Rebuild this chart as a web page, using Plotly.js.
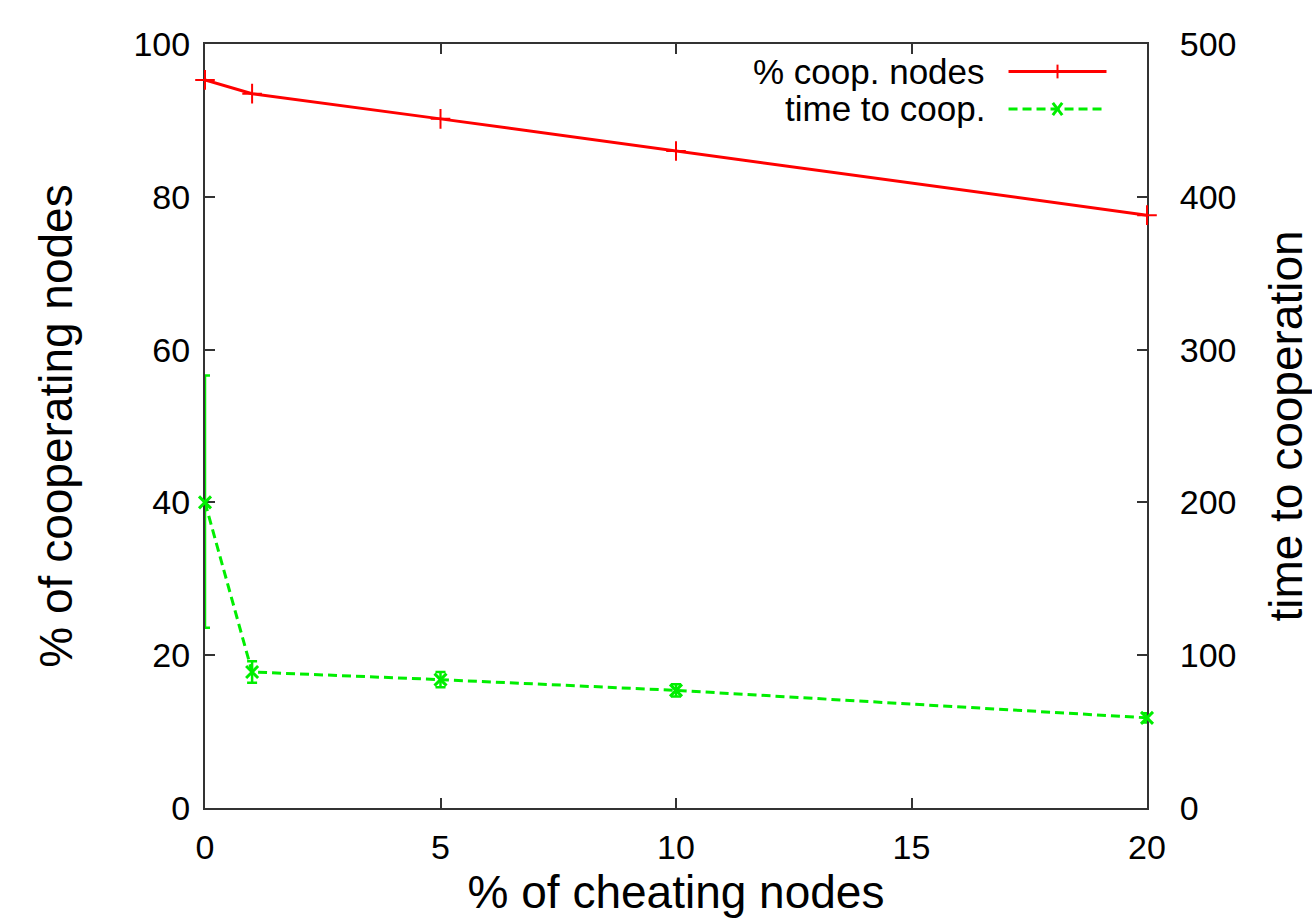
<!DOCTYPE html>
<html>
<head>
<meta charset="utf-8">
<script src="https://cdn.plot.ly/plotly-3.0.1.min.js"></script>
<style>html,body{margin:0;padding:0;background:#fff;}#chart{width:1312px;height:918px;}</style>
</head>
<body>
<div id="chart"></div>
<script>
// Data
const cheating = [0, 1, 5, 10, 20];
const coopNodes = [95.3, 93.5, 90.2, 86.0, 77.6];
const timeToCoop = [200, 89, 84, 77, 59];
const timeErrPlus = [83, 7, 5, 4, 3];
const timeErrMinus = [82, 7, 5, 4, 3];
const xTicks = [0, 5, 10, 15, 20];
const yTicks = [0, 20, 40, 60, 80, 100];
const y2Ticks = [0, 100, 200, 300, 400, 500];
const seriesNames = ['% coop. nodes', 'time to coop.'];

const FONT = 'Liberation Sans, Arial, sans-serif';
const AX = '#333333';
const TICKSIZE = 34;
const TITLESIZE = 46;

const traces = [
  {
    x: cheating, y: coopNodes, name: seriesNames[0], type: 'scatter', mode: 'lines+markers',
    line: {color: '#ff0000', width: 3},
    marker: {symbol: 'cross-thin-open', size: 14, line: {color: '#ff0000', width: 2}},
    cliponaxis: false, showlegend: false
  },
  {
    x: cheating, y: timeToCoop, name: seriesNames[1], type: 'scatter', mode: 'lines+markers',
    yaxis: 'y2',
    line: {color: '#00ee00', width: 3, dash: '9px,5px'},
    marker: {symbol: 'x-thin-open', size: 12, line: {color: '#00ee00', width: 3}},
    error_y: {type: 'data', symmetric: false, array: timeErrPlus, arrayminus: timeErrMinus,
              color: '#00ee00', thickness: 2.5, width: 5},
    cliponaxis: false, showlegend: false
  }
];

// Custom gnuplot-like legend (text right-aligned, sample to the right)
const legY = [0.964, 0.915];
const annotations = seriesNames.map((n, i) => ({
  xref: 'paper', yref: 'paper', x: 0.830, y: legY[i], xanchor: 'right', yanchor: 'middle',
  text: n, showarrow: false, font: {family: FONT, size: 35, color: '#000'}
}));
const shapes = [
  {type: 'line', xref: 'paper', yref: 'paper', x0: 0.853, x1: 0.957, y0: legY[0], y1: legY[0],
   line: {color: '#ff0000', width: 3}},
  {type: 'line', xref: 'paper', yref: 'paper', x0: 0.905, x1: 0.905, y0: legY[0] - 0.009, y1: legY[0] + 0.009,
   line: {color: '#ff0000', width: 2}},
  {type: 'line', xref: 'paper', yref: 'paper', x0: 0.853, x1: 0.957, y0: legY[1], y1: legY[1],
   line: {color: '#00ee00', width: 3, dash: '9px,5px'}},
  {type: 'line', xref: 'paper', yref: 'paper', x0: 0.900, x1: 0.910, y0: legY[1] - 0.008, y1: legY[1] + 0.008,
   line: {color: '#00ee00', width: 3}},
  {type: 'line', xref: 'paper', yref: 'paper', x0: 0.900, x1: 0.910, y0: legY[1] + 0.008, y1: legY[1] - 0.008,
   line: {color: '#00ee00', width: 3}}
];

const layout = {
  width: 1312, height: 918,
  margin: {l: 205, r: 165, t: 44, b: 110},
  paper_bgcolor: '#fff', plot_bgcolor: '#fff',
  font: {family: FONT, color: '#000'},
  showlegend: false,
  xaxis: {
    range: [0, 20], tickvals: xTicks, ticktext: xTicks.map(String),
    showgrid: false, zeroline: false, layer: 'below traces',
    showline: true, linecolor: AX, linewidth: 2, mirror: 'ticks',
    ticks: 'inside', ticklen: 10, tickwidth: 2, tickcolor: AX,
    tickfont: {family: FONT, size: TICKSIZE, color: '#000'}, ticklabelstandoff: 8,
    title: {text: '% of cheating nodes', font: {family: FONT, size: TITLESIZE, color: '#000'}, standoff: 12}
  },
  yaxis: {
    range: [0, 100], tickvals: yTicks, ticktext: yTicks.map(String),
    showgrid: false, zeroline: false, layer: 'below traces',
    showline: true, linecolor: AX, linewidth: 2,
    ticks: 'inside', ticklen: 10, tickwidth: 2, tickcolor: AX,
    tickfont: {family: FONT, size: TICKSIZE, color: '#000'}, ticklabelstandoff: 6,
    title: {text: '% of cooperating nodes', font: {family: FONT, size: TITLESIZE, color: '#000'}, standoff: 46}
  },
  yaxis2: {
    overlaying: 'y', side: 'right',
    range: [0, 500], tickvals: y2Ticks, ticktext: y2Ticks.map(String),
    showgrid: false, zeroline: false, layer: 'below traces',
    showline: true, linecolor: AX, linewidth: 2,
    ticks: 'inside', ticklen: 10, tickwidth: 2, tickcolor: AX,
    tickfont: {family: FONT, size: TICKSIZE, color: '#000'}, ticklabelstandoff: 24,
    title: {text: 'time to cooperation', font: {family: FONT, size: TITLESIZE, color: '#000'}, standoff: 34}
  },
  annotations: annotations,
  shapes: shapes
};

Plotly.newPlot('chart', traces, layout, {displayModeBar: false, staticPlot: true});
</script>
</body>
</html>
